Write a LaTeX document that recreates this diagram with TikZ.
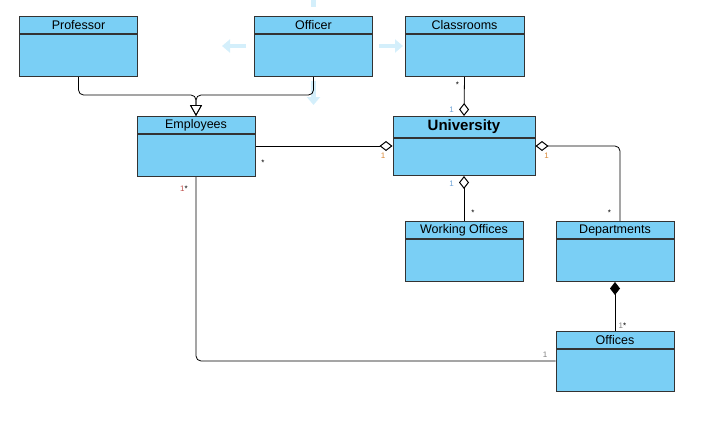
\documentclass[tikz,border=0pt]{standalone}
\usepackage{fontspec}
\setmainfont{Liberation Sans}
\usetikzlibrary{positioning,arrows.meta}

\definecolor{umlblue}{HTML}{7ACFF5}
\definecolor{handle}{HTML}{D4EFFB}
\definecolor{mulorange}{HTML}{D98A3A}
\definecolor{mulblue}{HTML}{6FA3D6}
\definecolor{mulred}{HTML}{C0504D}

\begin{document}
\begin{tikzpicture}[
    x=1pt, y=-1pt,
    head/.style={rectangle, draw=black!80, line width=1pt, fill=umlblue,
                 minimum width=118pt, minimum height=17pt, inner sep=0pt,
                 anchor=north, font=\fontsize{12.5}{13}\selectfont},
    body/.style={rectangle, draw=black!80, line width=1pt, fill=umlblue,
                 minimum width=118pt, minimum height=42pt, inner sep=0pt,
                 below=0pt of #1},
    gen/.style={draw, line width=0.8pt, rounded corners=5pt,
                -{Triangle[open, length=11pt, width=12pt]}},
    aggr/.style={draw, line width=0.8pt,
                 -{Diamond[open, length=13pt, width=10pt, line width=1pt]}},
    comp/.style={draw, line width=0.8pt, -{Diamond[length=13pt, width=10pt]}},
    assoc/.style={draw, line width=0.8pt, rounded corners=5pt},
    mult/.style={font=\fontsize{8}{8}\selectfont, inner sep=0pt},
    handlearrow/.style={handle, line width=4.5pt, -{Triangle[length=8pt, width=13pt]}}
]
\useasboundingbox (0,0) rectangle (709,423);

%% Maniglie di selezione (Officer)
\draw[handle, line width=5pt] (313.5,0) -- (313.5,7);
\draw[handlearrow] (246,46) -- (222,46);
\draw[handlearrow] (379,46) -- (403,46);
\draw[handlearrow] (313.5,81) -- (313.5,105);

%% Classi
\node[head] (prof) at (78.5,16) {Professor};
\node[body=prof] (prof-b) {};
\node[head] (offc) at (313.5,16) {Officer};
\node[body=offc] (offc-b) {};
\node[head, minimum width=119pt] (cls) at (464.5,16) {Classrooms};
\node[body=cls, minimum width=119pt] (cls-b) {};
\node[head] (emp) at (196,116) {Employees};
\node[body=emp] (emp-b) {};
\node[head, minimum width=142pt, minimum height=21pt,
      font=\fontsize{15}{16}\selectfont\bfseries] (uni) at (464,116) {University};
\node[body=uni, minimum width=142pt, minimum height=37pt] (uni-b) {};
\node[head] (work) at (464,221) {Working Offices};
\node[body=work] (work-b) {};
\node[head] (dep) at (615,221) {Departments};
\node[body=dep] (dep-b) {};
\node[head] (off) at (615,331) {Offices};
\node[body=off] (off-b) {};

%% Generalizzazione
\draw[gen] (prof-b.south) |- ([yshift=21pt]emp.north) -- (emp.north);
\draw[gen] (offc-b.south) |- ([yshift=21pt]emp.north) -- (emp.north);

%% Aggregazioni
\coordinate (uw) at ([yshift=-8pt]uni-b.north west);
\coordinate (ue) at ([yshift=-8pt]uni-b.north east);
\coordinate (dn) at ([xshift=5pt]dep.north);
\draw[aggr] (emp-b.east |- uw) -- (uw);
\draw[aggr] (cls-b.south) -- (uni.north);
\draw[aggr] (work.north) -- (uni-b.south);
\draw[aggr, rounded corners=5pt] (dn) |- (ue);

%% Composizione
\draw[comp] (off.north) -- (dep-b.south);

%% Associazione
\coordinate (ow) at ([yshift=-12pt]off-b.north west);
\draw[assoc] (emp-b.south) |- (ow);

%% Molteplicita
\node[mult] (m1) at (263,163) {*};
\node[mult, mulorange] (m2) at (383,156) {1};
\node[mult] (m3) at (457.5,85) {*};
\node[mult, mulblue] (m4) at (451.5,110) {1};
\node[mult, mulorange] (m5) at (546.5,156) {1};
\node[mult, mulblue] (m6) at (451.5,184) {1};
\node[mult] (m7) at (473,213) {*};
\node[mult] (m8) at (609.5,213) {*};
\node[mult] (m9) at (622.5,326) {\textcolor{gray}{1}*};
\node[mult, gray] (m10) at (545,355) {1};
\node[mult] (m11) at (184,189) {\textcolor{mulred}{1}*};

\end{tikzpicture}
\end{document}
